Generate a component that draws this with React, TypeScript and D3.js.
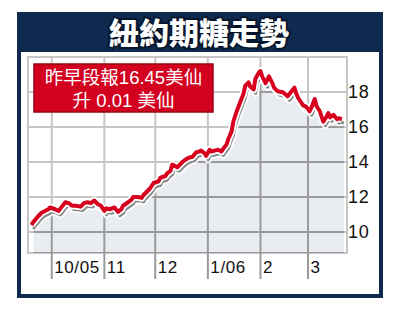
import React from 'react';
import * as d3 from 'd3';

const dates = [
  "2005-09-19","2005-09-20","2005-09-23","2005-09-25","2005-09-27","2005-09-29","2005-09-30",
  "2005-10-03","2005-10-05","2005-10-07","2005-10-09","2005-10-11","2005-10-13","2005-10-15",
  "2005-10-18","2005-10-20","2005-10-22","2005-10-24","2005-10-26","2005-10-28","2005-10-30",
  "2005-11-01","2005-11-02","2005-11-04","2005-11-07","2005-11-09","2005-11-11","2005-11-12",
  "2005-11-15","2005-11-17","2005-11-18","2005-11-21","2005-11-23","2005-11-24","2005-11-26",
  "2005-11-28","2005-11-30","2005-12-03","2005-12-04","2005-12-07","2005-12-08","2005-12-10",
  "2005-12-11","2005-12-13","2005-12-14","2005-12-16","2005-12-17","2005-12-19","2005-12-21",
  "2005-12-23","2005-12-25","2005-12-27","2005-12-28","2005-12-30","2005-12-31","2006-01-02",
  "2006-01-03","2006-01-05","2006-01-07","2006-01-09","2006-01-10","2006-01-12","2006-01-13",
  "2006-01-15","2006-01-16","2006-01-18","2006-01-20","2006-01-22","2006-01-23","2006-01-25",
  "2006-01-26","2006-01-28","2006-01-29","2006-01-31","2006-02-01","2006-02-02","2006-02-04",
  "2006-02-06","2006-02-08","2006-02-09","2006-02-11","2006-02-13","2006-02-14","2006-02-16",
  "2006-02-17","2006-02-19","2006-02-21","2006-02-22","2006-02-23","2006-02-25","2006-02-26",
  "2006-02-28","2006-03-02","2006-03-03","2006-03-05","2006-03-06","2006-03-08","2006-03-09",
  "2006-03-10","2006-03-12","2006-03-13","2006-03-14","2006-03-16","2006-03-18","2006-03-19",
  "2006-03-21"
];
const prices = [
  10.4, 10.55, 10.9, 11.1, 11.2, 11.3, 11.4,
  11.3, 11.2, 11.45, 11.7, 11.65, 11.5, 11.5,
  11.45, 11.65, 11.7, 11.65, 11.8, 11.6, 11.5,
  11.2, 11.35, 11.3, 11.4, 11.15, 11.3, 11.5,
  11.7, 11.85, 12.0, 12.0, 11.95, 12.1, 12.3,
  12.5, 12.8, 12.9, 13.1, 13.2, 13.35, 13.5,
  13.85, 13.75, 13.7, 13.9, 14.0, 14.15, 14.25,
  14.3, 14.55, 14.6, 14.65, 14.5, 14.35, 14.7,
  14.6, 14.65, 14.7, 14.6, 14.75, 15.0, 15.3,
  15.75, 16.3, 16.9, 17.4, 17.9, 18.35, 18.55,
  18.3, 18.15, 18.75, 19.1, 19.2, 18.9, 18.5,
  18.9, 18.5, 18.25, 18.05, 18.0, 18.0, 17.85,
  17.75, 18.0, 18.25, 17.95, 17.7, 17.4, 17.25,
  17.15, 16.9, 17.1, 17.6, 17.2, 16.9, 16.6,
  16.3, 16.6, 16.8, 16.55, 16.7, 16.45, 16.5,
  16.45
];
const yTicks = [10, 12, 14, 16, 18];
const monthTicks = ["2005-10-01", "2005-11-01", "2005-12-01", "2006-01-01", "2006-02-01", "2006-03-01"];
const monthLabels = ["10/05", "11", "12", "1/06", "2", "3"];
const xDomain = ["2005-09-17", "2006-03-24"];
const yDomain = [8.8, 20];
const title = "紐約期糖走勢";
const noteLines = ["昨早段報16.45美仙", "升 0.01 美仙"];

const parse = (s: string) => {
  const [yy, mm, dd] = s.split('-').map(Number);
  return new Date(yy, mm - 1, dd);
};

export default function App() {
  const W = 400, H = 309;
  const plot = { left: 28, right: 347, top: 57, bottom: 253 };
  const x = d3.scaleTime().domain(xDomain.map(parse)).range([plot.left, plot.right]);
  const y = d3.scaleLinear().domain(yDomain).range([plot.bottom, plot.top]);
  const pts: [number, number][] = dates.map((d, i) => [x(parse(d)), y(prices[i])]);
  const linePath = d3.line()(pts) || '';
  const areaPath = d3.area().x(d => d[0]).y1(d => d[1]).y0(plot.bottom + 10)(pts) || '';
  const navy = '#0e2a4e';
  const light = '#c6c6c6';
  const dark = '#9a9a9a';
  const sx = 2, sy = 4;
  const sans = '"Liberation Sans", Arial, "Noto Sans CJK TC", sans-serif';
  const cjk = '"Liberation Sans", "Noto Sans CJK TC", sans-serif';

  const grid = (color: string) => (
    <g stroke={color} strokeWidth={2}>
      {monthTicks.map(m => (
        <line key={m} x1={x(parse(m))} x2={x(parse(m))} y1={plot.top} y2={plot.bottom} />
      ))}
      {yTicks.map(v => (
        <line key={v} x1={plot.left} x2={plot.right} y1={y(v)} y2={y(v)} />
      ))}
      <rect x={plot.left} y={plot.top} width={plot.right - plot.left} height={plot.bottom - plot.top} fill="none" />
    </g>
  );

  return (
    <svg width={W} height={H} style={{ position: 'absolute', left: 0, top: 0, background: '#fff' }}>
      <defs>
        <clipPath id="plotClip">
          <rect x={plot.left} y={plot.top} width={plot.right - plot.left} height={plot.bottom - plot.top} />
        </clipPath>
        <clipPath id="areaClip">
          <path d={areaPath} transform={`translate(${sx},${sy})`} />
        </clipPath>
      </defs>
      {/* frame */}
      <rect x={19} y={14} width={362} height={282} fill="#fff" stroke={navy} strokeWidth={4} />
      <rect x={17} y={12} width={366} height={40} fill={navy} />
      <text x={199} y={44} textAnchor="middle" fontSize={30} fontWeight={900}
        fontFamily='"Noto Sans CJK TC", sans-serif' fill="#fff" stroke="#06142a" strokeWidth={3.5}
        paintOrder="stroke" letterSpacing={0}>{title}</text>

      {/* grid */}
      {grid(light)}
      <g clipPath="url(#plotClip)">
        <path d={areaPath} transform={`translate(${sx},${sy})`} fill="#e9edf1" />
        <g clipPath="url(#areaClip)">{grid(dark)}</g>
        <path d={linePath} transform={`translate(${sx},${sy})`} fill="none" stroke="#fff" strokeWidth={6.5} strokeLinejoin="round" />
        <path d={linePath} transform={`translate(${sx},${sy})`} fill="none" stroke="#8a8a8a" strokeWidth={3} strokeLinejoin="round" />
        <path d={linePath} fill="none" stroke="#fff" strokeWidth={7.5} strokeLinejoin="round" />
        <path d={linePath} fill="none" stroke="#d7001f" strokeWidth={4} strokeLinejoin="round" />
      </g>

      {/* x ticks & labels */}
      <g>
        {monthTicks.map((m, i) => (
          <g key={m}>
            <line x1={x(parse(m))} x2={x(parse(m))} y1={plot.bottom} y2={279} stroke={dark} strokeWidth={2} />
            <text x={x(parse(m)) + 2.5} y={273} fontSize={17} fontFamily={sans} fill="#111" letterSpacing={0.6}>{monthLabels[i]}</text>
          </g>
        ))}
      </g>
      {/* y labels */}
      <g>
        {yTicks.map(v => (
          <text key={v} x={348} y={y(v) + 5.5} fontSize={18} fontFamily={sans} fill="#111" letterSpacing={0.8}>{v}</text>
        ))}
      </g>

      {/* note box */}
      <rect x={34} y={64} width={179} height={48} fill="#d3001f" stroke="#9c0015" strokeWidth={1.5} />
      {noteLines.map((t, i) => (
        <text key={i} x={123.5} y={84 + i * 23} textAnchor="middle" fontSize={18.5} fontFamily={cjk} fill="#fff">{t}</text>
      ))}
    </svg>
  );
}
